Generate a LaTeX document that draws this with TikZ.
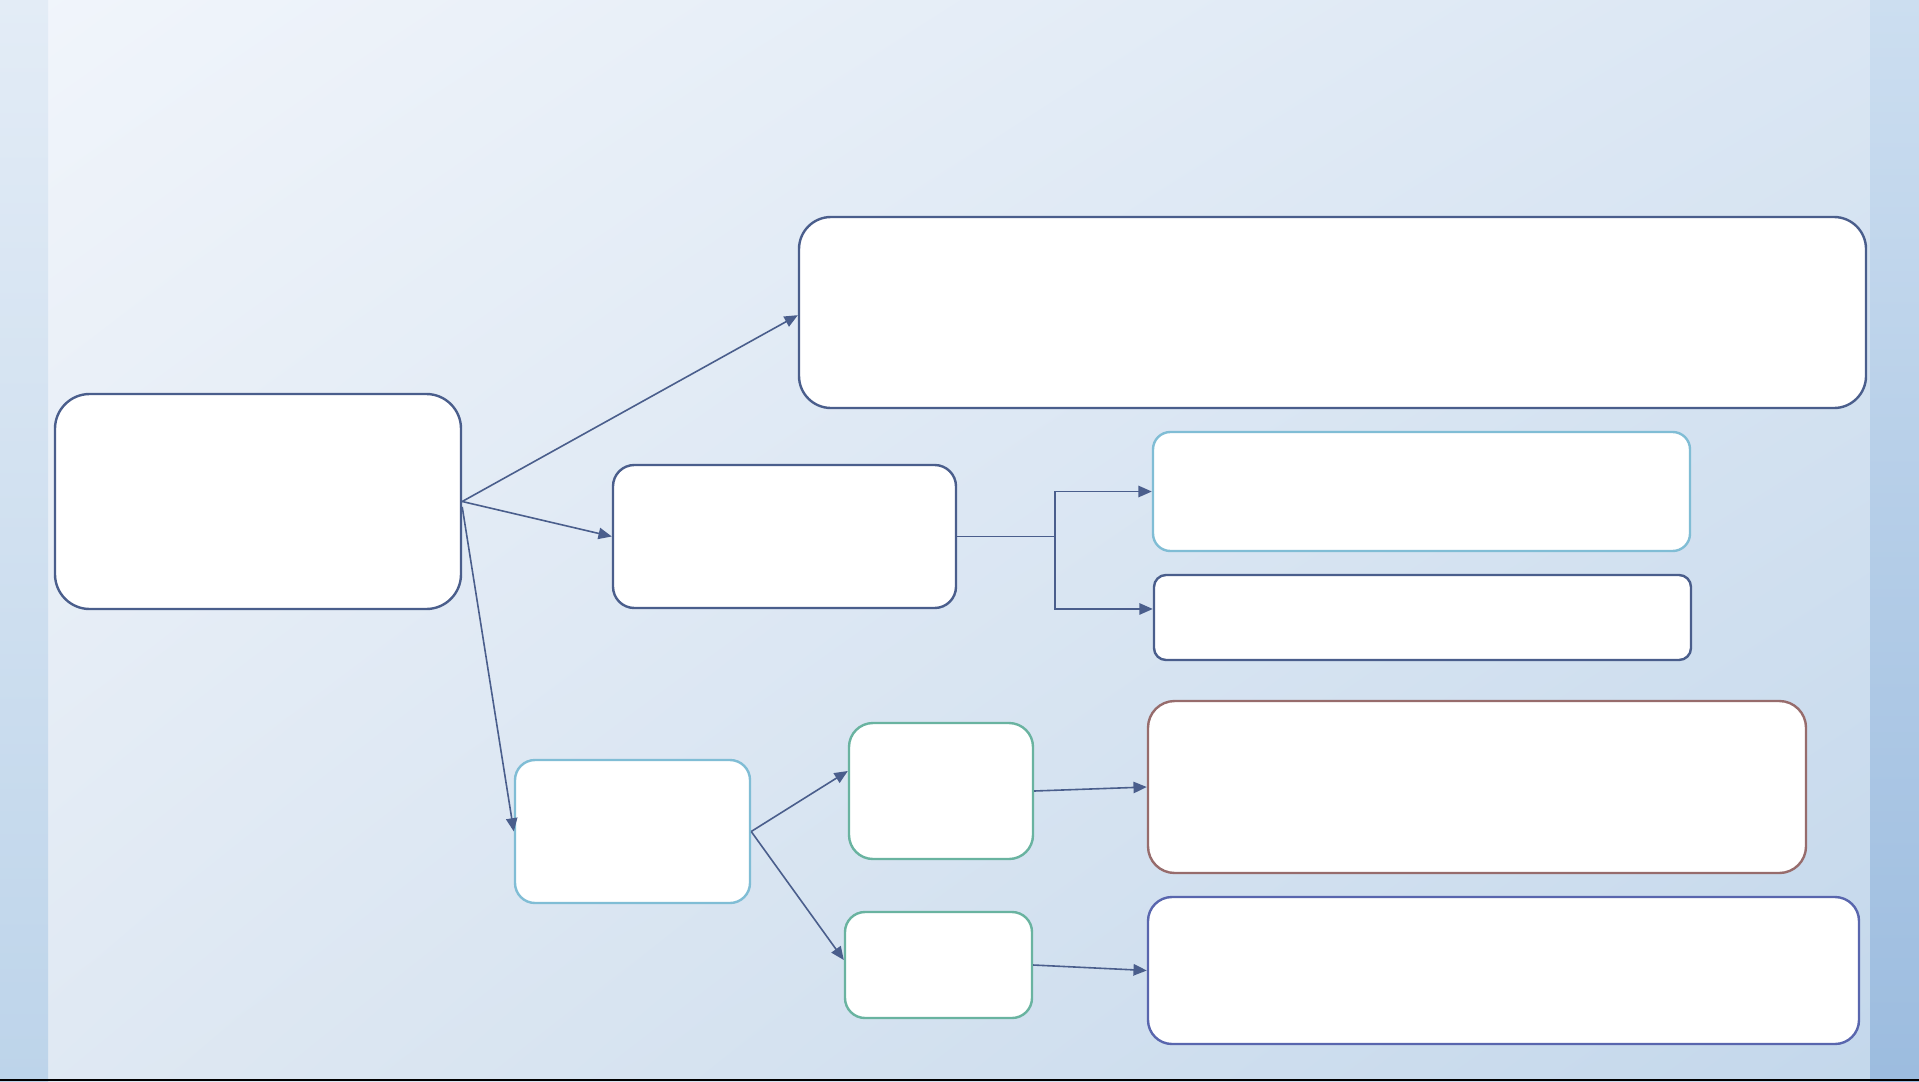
\documentclass[tikz,border=0pt]{standalone}
\usetikzlibrary{arrows.meta,shadings}
\definecolor{bgUL}{HTML}{F1F5FB}
\definecolor{bgUR}{HTML}{DAE6F3}
\definecolor{bgLL}{HTML}{E0E9F3}
\definecolor{bgLR}{HTML}{C3D7EB}
\definecolor{lsT}{HTML}{E3ECF6}
\definecolor{lsB}{HTML}{BDD4EA}
\definecolor{rsT}{HTML}{CCDEF0}
\definecolor{rsB}{HTML}{9CBCDF}
\definecolor{navy}{HTML}{4A5E8C}
\definecolor{skyb}{HTML}{80BDD5}
\definecolor{teal}{HTML}{69B3A0}
\definecolor{brownb}{HTML}{976C6C}
\definecolor{violetb}{HTML}{5966AE}
\tikzset{
  box/.style={draw, fill=white, line width=1.8pt, inner sep=0pt},
  conn/.style={draw=navy, line width=1.2pt, -{Triangle[length=10pt,width=8.5pt]}},
  plain/.style={draw=navy, line width=1.2pt}
}
\begin{document}
\begin{tikzpicture}[x=0.75pt,y=-0.75pt]
\useasboundingbox (0,0) rectangle (1919,1081);
% background
\shade[upper left=bgUL, upper right=bgUR, lower left=bgLL, lower right=bgLR] (0,0) rectangle (1919,1081);
\shade[top color=lsT, bottom color=lsB] (0,0) rectangle (48,1081);
\shade[top color=rsT, bottom color=rsB] (1870,0) rectangle (1919,1081);
\fill[black] (0,1079) rectangle (1919,1081);
% boxes
\node[box, draw=navy, rounded corners=26pt, minimum width=304.5pt, minimum height=161.25pt] (A) at (258,501.5) {};
\node[box, draw=navy, rounded corners=24pt, minimum width=800.25pt, minimum height=143.25pt] (B) at (1332.5,312.5) {};
\node[box, draw=navy, rounded corners=16pt, minimum width=257.25pt, minimum height=107.25pt] (C) at (784.5,536.5) {};
\node[box, draw=skyb, rounded corners=13pt, minimum width=402.75pt, minimum height=89.25pt] (D) at (1421.5,491.5) {};
\node[box, draw=navy, rounded corners=9pt, minimum width=402.75pt, minimum height=63.75pt] (E) at (1422.5,617.5) {};
\node[box, draw=skyb, rounded corners=15pt, minimum width=176.25pt, minimum height=107.25pt] (F) at (632.5,831.5) {};
\node[box, draw=teal, rounded corners=18pt, minimum width=138pt, minimum height=102pt] (G) at (941,791) {};
\node[box, draw=teal, rounded corners=15pt, minimum width=140.25pt, minimum height=79.5pt] (H) at (938.5,965) {};
\node[box, draw=brownb, rounded corners=20pt, minimum width=493.5pt, minimum height=129pt] (I) at (1477,787) {};
\node[box, draw=violetb, rounded corners=18pt, minimum width=533.25pt, minimum height=110.25pt] (J) at (1503.5,970.5) {};
% connectors
\draw[conn] (A.east) -- ([yshift=-2pt]B.west);
\draw[conn] (A.east) -- (C.west);
\draw[conn] ([yshift=-4pt]A.east) -- (F.west);
\coordinate (split) at (1055,536.5);
\draw[plain] (C.east) -- (split);
\draw[conn] (split) |- (D.west);
\draw[conn] (split) |- ([yshift=6.4pt]E.west);
\draw[conn] (F.east) -- ([yshift=15pt]G.west);
\draw[conn] (F.east) -- ([yshift=3.75pt]H.west);
\draw[conn] (G.east) -- (I.west);
\draw[conn] (H.east) -- (J.west);
\end{tikzpicture}
\end{document}
